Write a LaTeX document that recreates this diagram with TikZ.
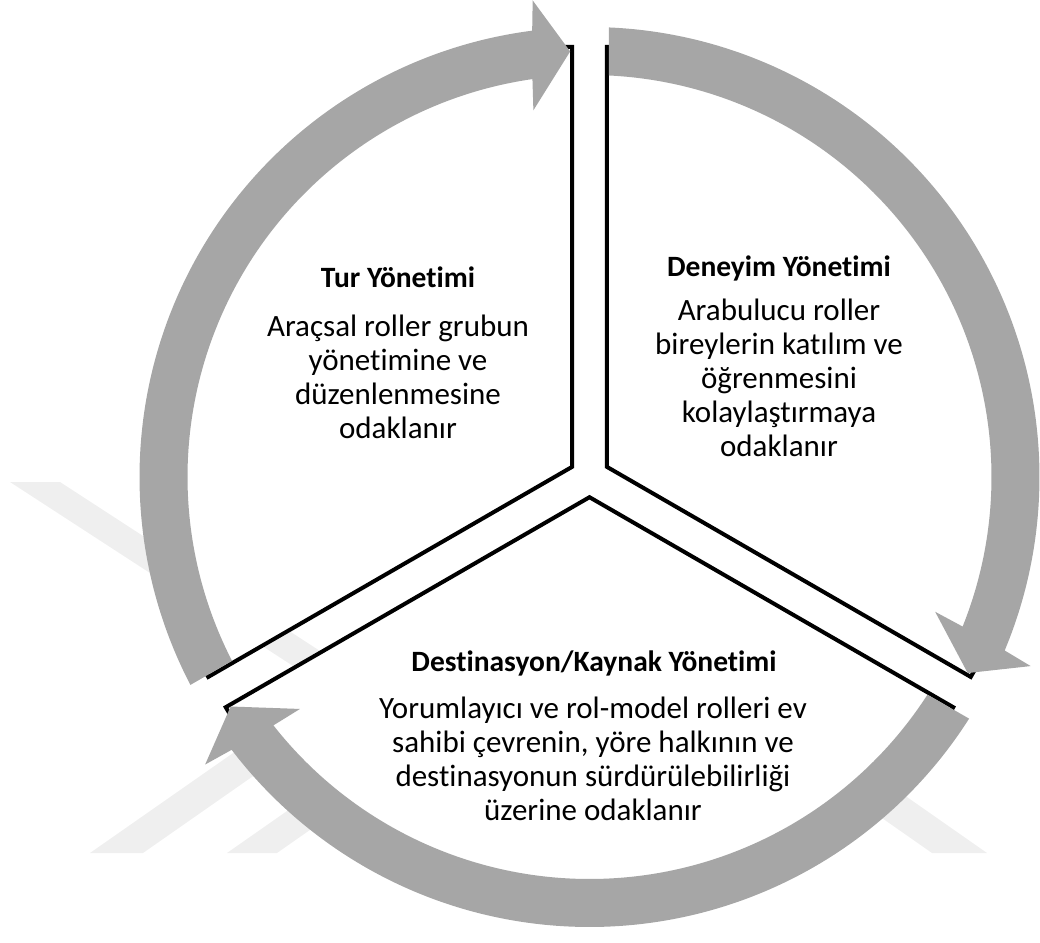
\documentclass[tikz,border=0pt]{standalone}
\usepackage{fontspec}
\setmainfont{Carlito}[Ligatures={NoCommon,NoContextual},Contextuals=NoAlternate,RawFeature={-liga;-clig;-calt}]
\definecolor{ringgray}{HTML}{A6A6A6}
\definecolor{markgray}{HTML}{EFEFEF}
\begin{document}
\begin{tikzpicture}[x=1pt,y=1pt,
  sector/.style={fill=white,draw=black,line width=4pt,line join=miter},
  cyclearrow/.style={fill=ringgray},
  watermark/.style={fill=markgray},
  heading/.style={font=\fontsize{29.5}{34}\selectfont\bfseries,inner sep=0pt},
  bodytext/.style={font=\fontsize{31}{34}\selectfont,align=center,inner sep=0pt}]
\useasboundingbox (-589.5,-465) rectangle (450.5,477);

% faint background mark (page coordinates, y downwards)
\begin{scope}[shift={(-589.5,477)},yscale=-1]
  \fill[watermark] (10,482) -- (60,482) -- (420,716) -- (370,716) -- cycle;
  \fill[watermark] (90,853) -- (143,853) -- (362,700) -- (309,700) -- cycle;
  \fill[watermark] (227,853) -- (277,853) -- (410,760) -- (360,760) -- cycle;
  \fill[watermark] (932,853) -- (987,853) -- (854,760) -- (799,760) -- cycle;
\end{scope}

% three separated pie segments
\filldraw[sector] (150:20.2) -- ++(90:420)
  arc[start angle=90,end angle=210,radius=420] -- cycle;
\filldraw[sector] (30:20.2) -- ++(-30:420)
  arc[start angle=-30,end angle=90,radius=420] -- cycle;
\filldraw[sector] (270:20.2) -- ++(210:420)
  arc[start angle=210,end angle=330,radius=420] -- cycle;

% circular arrows running clockwise round the ring
\fill[cyclearrow] (207.52:450) arc[start angle=207.52,end angle=97.32,radius=450]
  -- (96.8:480) -- (92.6:426) -- (98.7:371) -- (98.16:402)
  arc[start angle=98.16,end angle=207.22,radius=402] -- cycle;
\fill[cyclearrow] (87.52:450) arc[start angle=87.52,end angle=-22.68,radius=450]
  -- (-23.2:480) -- (-27.4:426) -- (-21.3:371) -- (-21.84:402)
  arc[start angle=-21.84,end angle=87.22,radius=402] -- cycle;
\fill[cyclearrow] (-32.48:450) arc[start angle=-32.48,end angle=-142.68,radius=450]
  -- (-143.2:480) -- (-147.4:426) -- (-141.3:371) -- (-141.84:402)
  arc[start angle=-141.84,end angle=-32.78,radius=402] -- cycle;

% segment texts
\node[heading] (turTitle) at (-191.5,200) {Tur Yönetimi};
\node[bodytext] (turBody) at (-191.5,100.5)
  {Araçsal roller grubun\\yönetimine ve\\düzenlenmesine\\odaklanır};
\node[heading] (denTitle) at (189.5,209) {Deneyim Yönetimi};
\node[bodytext] (denBody) at (189.5,99)
  {Arabulucu roller\\bireylerin katılım ve\\öğrenmesini\\kolaylaştırmaya\\odaklanır};
\node[heading] (desTitle) at (4.5,-186) {Destinasyon/Kaynak Yönetimi};
\node[bodytext] (desBody) at (3.5,-282)
  {Yorumlayıcı ve rol-model rolleri ev\\sahibi çevrenin, yöre halkının ve\\destinasyonun sürdürülebilirliği\\üzerine odaklanır};
\end{tikzpicture}
\end{document}
